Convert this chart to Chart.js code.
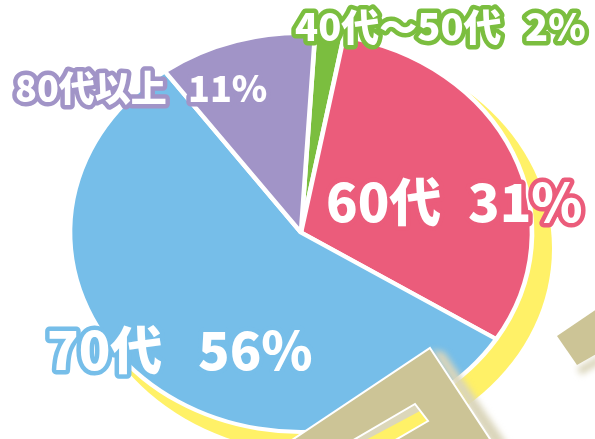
<!DOCTYPE html>
<html>
<head>
<meta charset="utf-8">
<script src="https://cdn.jsdelivr.net/npm/chart.js@4.4.1/dist/chart.umd.min.js"></script>
<style>
  html, body { margin: 0; padding: 0; background: #fff; }
  #wrap { width: 595px; height: 439px; }
</style>
</head>
<body>
<div id="wrap"><canvas id="chart" width="595" height="439"></canvas></div>
<script>
var ageGroups = ['40代～50代', '60代', '70代', '80代以上'];
var shares = [2, 31, 56, 11];
var sliceColors = ['#7BBE3F', '#EB5C7B', '#76BEE9', '#A194C7'];
var shareLabels = ['2%', '31%', '56%', '11%'];

// the pie in the picture is a little wider than tall
var stretchX = 231 / 199.5;

var squash = {
    id: 'squash',
    beforeDatasetsDraw: function(chart) {
        var arc = chart.getDatasetMeta(0).data[0];
        var ctx = chart.ctx;
        // yellow shadow behind the pie
        ctx.save();
        ctx.fillStyle = '#FFF167';
        ctx.beginPath();
        ctx.ellipse(arc.x + 15, arc.y + 16, arc.outerRadius * stretchX + 5, arc.outerRadius + 5, 0, 0, Math.PI * 2);
        ctx.fill();
        ctx.restore();

        ctx.save();
        ctx.translate(arc.x, arc.y);
        ctx.scale(stretchX, 1);
        ctx.translate(-arc.x, -arc.y);
    },
    afterDatasetsDraw: function(chart) {
        var ctx = chart.ctx;
        ctx.restore();

        // paper shapes in the lower right corner
        ctx.save();
        ctx.lineJoin = 'miter';
        // soft light edge
        ctx.save();
        ctx.filter = 'blur(3px)';
        ctx.fillStyle = '#DAD5BA';
        ctx.beginPath();
        ctx.moveTo(431, 350); ctx.lineTo(444, 352); ctx.lineTo(508, 445); ctx.lineTo(492, 445);
        ctx.closePath(); ctx.fill();
        ctx.beginPath();
        ctx.moveTo(577, 368); ctx.lineTo(600, 355); ctx.lineTo(600, 364); ctx.lineTo(581, 375);
        ctx.closePath(); ctx.fill();
        ctx.restore();

        ctx.fillStyle = '#CCC496';
        ctx.strokeStyle = '#FFFFFF';
        ctx.lineWidth = 2;
        ctx.beginPath();
        ctx.moveTo(430, 348); ctx.lineTo(492, 442); ctx.lineTo(289, 442);
        ctx.closePath();
        ctx.fill(); ctx.stroke();

        ctx.beginPath();
        ctx.moveTo(557, 336); ctx.lineTo(577, 365); ctx.lineTo(600, 352); ctx.lineTo(600, 307);
        ctx.closePath();
        ctx.fill();

        // slot in the big shape
        ctx.fillStyle = '#FFF167';
        ctx.beginPath();
        ctx.moveTo(415, 404); ctx.lineTo(428, 421); ctx.lineTo(392, 442); ctx.lineTo(350, 442);
        ctx.closePath();
        ctx.fill();
        ctx.fillStyle = '#DCD7BA';
        ctx.beginPath();
        ctx.moveTo(415, 404); ctx.lineTo(420, 411); ctx.lineTo(362, 442); ctx.lineTo(350, 442);
        ctx.closePath();
        ctx.fill();
        ctx.beginPath();
        ctx.moveTo(350, 442); ctx.lineTo(415, 404); ctx.lineTo(428, 421); ctx.lineTo(392, 442);
        ctx.stroke();
        ctx.restore();
    },
    afterDraw: function(chart) {
        var ctx = chart.ctx;
        // [text, x, y, size, colour index]
        var texts = [
            [ageGroups[0], 295, 27, 38, 0],
            [shareLabels[0], 525, 27, 38, 0],
            [ageGroups[1], 326, 202, 52, 1],
            [shareLabels[1], 468, 202, 52, 1],
            [ageGroups[2], 47, 350, 52, 2],
            [shareLabels[2], 198, 350, 52, 2],
            [ageGroups[3], 15, 88, 36, 3],
            [shareLabels[3], 188, 88, 36, 3]
        ];
        ctx.save();
        ctx.textAlign = 'left';
        ctx.textBaseline = 'middle';
        ctx.lineJoin = 'round';
        texts.forEach(function(t) {
            ctx.font = '900 ' + t[3] + 'px "Noto Sans CJK JP", "Noto Sans", sans-serif';
            ctx.lineWidth = 9;
            ctx.strokeStyle = sliceColors[t[4]];
            ctx.strokeText(t[0], t[1], t[2]);
            ctx.fillStyle = '#FFFFFF';
            ctx.fillText(t[0], t[1], t[2]);
        });
        ctx.restore();
    }
};

new Chart(document.getElementById('chart'), {
    type: 'pie',
    data: {
        labels: ageGroups,
        datasets: [{
            data: shares,
            backgroundColor: sliceColors,
            borderColor: '#FFFFFF',
            borderWidth: 4,
            clip: false
        }]
    },
    options: {
        responsive: false,
        animation: false,
        rotation: 3.5,
        radius: 199.5,
        layout: { padding: { left: 7, right: 0, top: 26, bottom: 0 } },
        plugins: {
            legend: { display: false },
            tooltip: { enabled: false }
        }
    },
    plugins: [squash]
});
</script>
</body>
</html>
